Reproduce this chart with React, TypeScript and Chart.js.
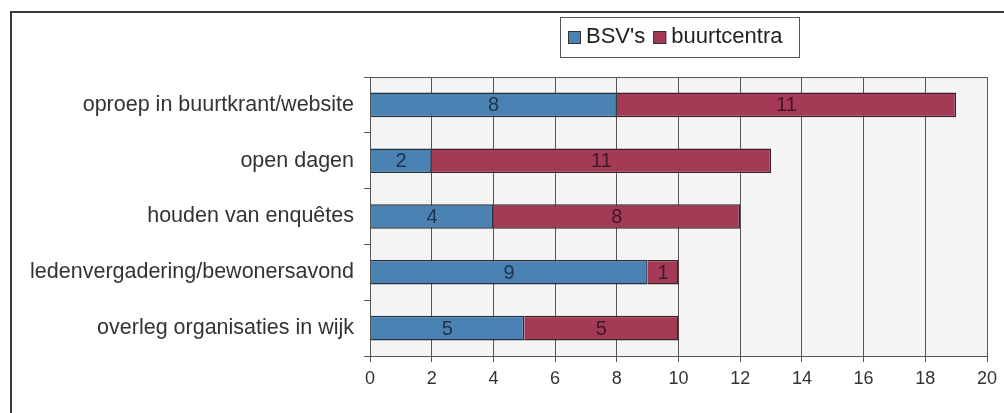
import React, { useEffect, useRef } from "react";
import { Chart, registerables } from "chart.js";

Chart.register(...registerables);

const categories = [
  "oproep in buurtkrant/website",
  "open dagen",
  "houden van enquêtes",
  "ledenvergadering/bewonersavond",
  "overleg organisaties in wijk",
];
const bsvValues = [8, 2, 4, 9, 5];
const buurtcentraValues = [11, 11, 8, 1, 5];
const seriesLabels = ["BSV's", "buurtcentra"];
const xMin = 0;
const xMax = 20;
const xStep = 2;

const FONT = "'Liberation Sans', Arial, sans-serif";
const BLUE = "#4a82b4";
const RED = "#a53a57";

const framePlugin = {
  id: "frame",
  beforeDraw(chart: any) {
    const { ctx, chartArea } = chart;
    ctx.save();
    ctx.fillStyle = "#ffffff";
    ctx.fillRect(0, 0, chart.width, chart.height);
    ctx.fillStyle = "#f4f4f4";
    ctx.fillRect(chartArea.left, chartArea.top, chartArea.right - chartArea.left, chartArea.bottom - chartArea.top);
    ctx.strokeStyle = "#3a3a3a";
    ctx.lineWidth = 2;
    ctx.beginPath();
    ctx.moveTo(11, chart.height);
    ctx.lineTo(11, 12);
    ctx.lineTo(chart.width, 12);
    ctx.stroke();
    ctx.restore();
  },
  afterDraw(chart: any) {
    const { ctx, chartArea } = chart;
    ctx.save();
    ctx.strokeStyle = "#555";
    ctx.lineWidth = 1;
    ctx.strokeRect(Math.round(chartArea.left) + 0.5, Math.round(chartArea.top) + 0.5,
      Math.round(chartArea.right - chartArea.left), Math.round(chartArea.bottom - chartArea.top));
    // legend
    const bx = 560, by = 17, bw = 239, bh = 40;
    ctx.fillStyle = "#ffffff";
    ctx.fillRect(bx, by, bw, bh);
    ctx.strokeStyle = "#555";
    ctx.strokeRect(bx + 0.5, by + 0.5, bw, bh);
    ctx.font = `22px ${FONT}`;
    ctx.textBaseline = "middle";
    ctx.textAlign = "left";
    let x = bx + 8;
    const cy = by + bh / 2;
    chart.data.datasets.forEach((ds: any) => {
      ctx.fillStyle = ds.backgroundColor;
      ctx.fillRect(x, cy - 6, 13, 13);
      ctx.strokeStyle = "#333";
      ctx.strokeRect(x + 0.5, cy - 5.5, 12, 12);
      x += 18;
      ctx.fillStyle = "#222";
      ctx.fillText(ds.label, x, cy);
      x += ctx.measureText(ds.label).width + 8;
    });
    ctx.restore();
  },
  afterDatasetsDraw(chart: any) {
    const { ctx } = chart;
    ctx.save();
    ctx.font = `20px ${FONT}`;
    ctx.textAlign = "center";
    ctx.textBaseline = "middle";
    chart.data.datasets.forEach((ds: any, di: number) => {
      const meta = chart.getDatasetMeta(di);
      meta.data.forEach((el: any, i: number) => {
        const v = ds.data[i];
        if (!v) return;
        ctx.fillStyle = di === 0 ? "#223349" : "#3d1a25";
        ctx.fillText(String(v), (el.x + el.base) / 2, el.y + 1);
      });
    });
    ctx.restore();
  },
};

export default function App() {
  const ref = useRef<HTMLCanvasElement>(null);
  useEffect(() => {
    if (!ref.current) return;
    const chart = new Chart(ref.current, {
      type: "bar",
      data: {
        labels: categories,
        datasets: [
          {
            label: seriesLabels[0],
            data: bsvValues,
            backgroundColor: BLUE,
            borderColor: "#26303c",
            borderWidth: 1.5,
            barPercentage: 0.44,
            categoryPercentage: 1,
          },
          {
            label: seriesLabels[1],
            data: buurtcentraValues,
            backgroundColor: RED,
            borderColor: "#3a2028",
            borderWidth: 1.5,
            barPercentage: 0.44,
            categoryPercentage: 1,
          },
        ],
      },
      options: {
        indexAxis: "y",
        animation: false,
        responsive: false,
        maintainAspectRatio: false,
        layout: { padding: { top: 77, right: 17, left: 0, bottom: 0 } },
        plugins: { legend: { display: false }, tooltip: { enabled: false } },
        scales: {
          x: {
            stacked: true,
            min: xMin,
            max: xMax,
            ticks: { stepSize: xStep, color: "#333", font: { family: FONT, size: 18 }, padding: 6 },
            grid: { color: "#555", lineWidth: 1, tickLength: 6, drawTicks: true },
            border: { color: "#555", width: 1 },
            afterFit(scale: any) { scale.height = 57; },
          },
          y: {
            stacked: true,
            ticks: { color: "#333", font: { family: FONT, size: 21.5 }, padding: 10 },
            grid: { drawOnChartArea: false, drawTicks: true, tickLength: 6, color: "#555", offset: true },
            border: { color: "#555", width: 1 },
            afterFit(scale: any) { scale.width = 370; },
          },
        },
      },
      plugins: [framePlugin],
    } as any);
    return () => chart.destroy();
  }, []);
  return (
    <div style={{ position: "fixed", left: 0, top: 0, width: 1004, height: 413 }}>
      <canvas ref={ref} width={1004} height={413} style={{ width: 1004, height: 413 }} />
    </div>
  );
}
